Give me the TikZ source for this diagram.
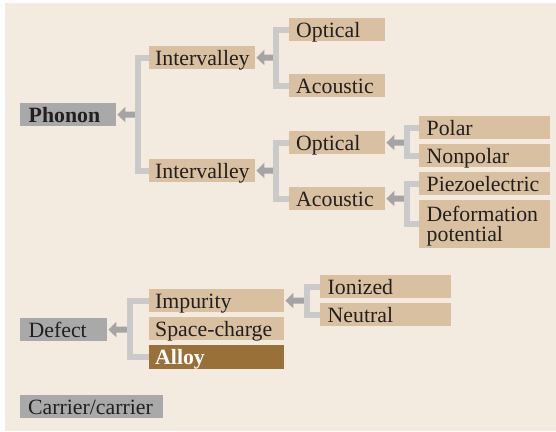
\documentclass[tikz,border=0pt]{standalone}
\usepackage{fontspec}
\setmainfont{Liberation Serif}
\usetikzlibrary{arrows.meta}
\definecolor{bgc}{HTML}{F3EBDF}
\definecolor{tanc}{HTML}{D8C0A0}
\definecolor{grayc}{HTML}{A9A9A9}
\definecolor{brownc}{HTML}{9A7039}
\definecolor{brkc}{HTML}{CACACA}
\definecolor{arrc}{HTML}{A4A4A4}
\definecolor{txtc}{HTML}{231F20}
\newcommand\fsz{\fontsize{21.8pt}{20pt}\selectfont}
\begin{document}
\begin{tikzpicture}[x=1pt,y=-1pt,
  base/.style={anchor=north west, inner ysep=0pt, minimum height=23pt,
    text height=17pt, text depth=2pt, align=left, font=\fsz, text=txtc},
  tan/.style={base, fill=tanc},
  gry/.style={base, fill=grayc},
  brn/.style={base, fill=brownc, text=white, font=\fsz\bfseries},
  brk/.style={draw=brkc, line width=6pt, line join=miter},
  arr/.style={draw=arrc, line width=6pt, shorten >=1pt, -{Triangle[length=8pt,width=15pt]}}]
\useasboundingbox (0,0) rectangle (556,431);
\fill[bgc] (5,3) rectangle (556,431);
% nodes
\node[gry, font=\fsz\bfseries, text width=79pt, inner xsep=8.5pt] (phonon) at (20,103) {Phonon};
\node[tan, text width=94pt, inner xsep=6pt] (iv1) at (149,46) {Intervalley};
\node[tan, text width=94pt, inner xsep=6pt] (iv2) at (149,159) {Intervalley};
\node[tan, text width=82pt, inner xsep=7pt] (op1) at (289,18) {Optical};
\node[tan, text width=82pt, inner xsep=7pt] (ac1) at (289,74) {Acoustic};
\node[tan, text width=82pt, inner xsep=7pt] (op2) at (289,131) {Optical};
\node[tan, text width=82pt, inner xsep=7pt] (ac2) at (289,187) {Acoustic};
\node[tan, text width=116pt, inner xsep=7.5pt] (polar) at (419,116) {Polar};
\node[tan, text width=116pt, inner xsep=7.5pt] (nonpolar) at (419,144) {Nonpolar};
\node[tan, text width=116pt, inner xsep=7.5pt] (piezo) at (419,172) {Piezoelectric};
\node[tan, text width=116pt, inner xsep=7.5pt, minimum height=48pt, text depth=22pt] (deform) at (419,200) {Deformation\\potential};
\node[gry, text width=70pt, inner xsep=8.5pt] (defect) at (20,318) {Defect};
\node[tan, text width=123pt, inner xsep=6pt] (impurity) at (149,289) {Impurity};
\node[tan, text width=123pt, inner xsep=6pt] (space) at (149,317) {Space-charge};
\node[brn, text width=123pt, inner xsep=6pt, minimum height=24pt] (alloy) at (149,345) {Alloy};
\node[tan, text width=116pt, inner xsep=7.5pt] (ionized) at (320,275) {Ionized};
\node[tan, text width=116pt, inner xsep=7.5pt] (neutral) at (320,303) {Neutral};
\node[gry, text width=127pt, inner xsep=8pt] (carrier) at (20,395) {Carrier/carrier};
% junctions
\coordinate (jP) at (138,114.5);
\coordinate (jIV1) at (276,57.5);
\coordinate (jIV2) at (276,170.5);
\coordinate (jOP) at (407,142.5);
\coordinate (jAC) at (407,198.5);
\coordinate (jD) at (130,329.5);
\coordinate (jI) at (307,300.5);
% arrows
\draw[arr] (jP) -- (phonon.east);
\draw[arr] (jIV1) -- (iv1.east);
\draw[arr] (jIV2) -- (iv2.east);
\draw[arr] (jOP) -- (op2.east);
\draw[arr] (jAC) -- (ac2.east);
\draw[arr] (jD) -- (defect.east);
\draw[arr] (jI) -- (impurity.east);
% brackets
\draw[brk] (iv1.west) -| (jP) |- (iv2.west);
\draw[brk] (op1.west) -| (jIV1) |- (ac1.west);
\draw[brk] (op2.west) -| (jIV2) |- (ac2.west);
\draw[brk] (polar.west) -| (jOP) |- (nonpolar.west);
\draw[brk] (piezo.west) -| (jAC) |- (deform.west);
\draw[brk] (impurity.west) -| (jD) |- (alloy.west);
\draw[brk] (ionized.west) -| (jI) |- (neutral.west);
\end{tikzpicture}
\end{document}
